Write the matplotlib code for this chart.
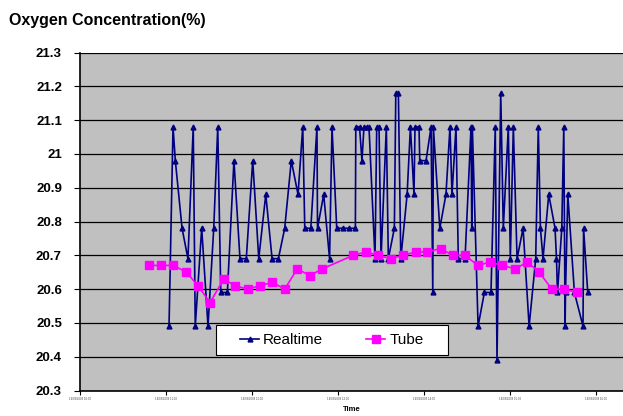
import matplotlib
matplotlib.use('Agg')
import matplotlib.pyplot as plt
from matplotlib.patches import Rectangle
from matplotlib.ticker import FixedLocator

# minutes after the first time tick
realtime_minutes = [
    62.1, 64.9, 66.5, 71.2, 75.3, 79.0, 80.4, 84.9, 89.3, 93.3,
    96.1, 98.2, 102.8, 107.4, 111.6, 116.0, 120.5, 124.7, 129.6, 134.0,
    138.4, 142.8, 147.4, 152.1, 155.4, 156.8, 161.0, 165.3, 165.7, 170.0,
    174.1, 175.8, 179.1, 183.3, 187.9, 192.1, 192.4, 195.0, 196.7, 198.1,
    200.0, 201.6, 205.8, 207.0, 208.6, 210.0, 213.7, 215.1, 219.3, 220.3,
    222.1, 223.8, 228.2, 230.5, 233.0, 233.7, 236.5, 237.0, 241.4, 244.9,
    246.1, 246.5, 251.0, 255.3, 258.1, 259.5, 262.3, 263.9, 268.6, 272.8,
    273.3, 273.7, 277.7, 282.1, 286.7, 289.7, 290.9, 293.5, 295.3, 298.8,
    300.2, 302.3, 304.9, 309.1, 313.3, 317.9, 319.7, 321.2, 323.0, 327.0,
    331.4, 332.4, 333.1, 336.1, 337.5, 338.4, 338.7, 340.3, 344.9, 350.9,
    351.3, 354.2,
]
realtime_values = [
    20.49, 21.08, 20.98, 20.78, 20.69, 21.08, 20.49, 20.78, 20.49, 20.78,
    21.08, 20.59, 20.59, 20.98, 20.69, 20.69, 20.98, 20.69, 20.88, 20.69,
    20.69, 20.78, 20.98, 20.88, 21.08, 20.78, 20.78, 21.08, 20.78, 20.88,
    20.69, 21.08, 20.78, 20.78, 20.78, 20.78, 21.08, 21.08, 20.98, 21.08,
    21.08, 21.08, 20.69, 21.08, 21.08, 20.69, 21.08, 20.69, 20.78, 21.18,
    21.18, 20.69, 20.88, 21.08, 20.88, 21.08, 21.08, 20.98, 20.98, 21.08,
    20.59, 21.08, 20.78, 20.88, 21.08, 20.88, 21.08, 20.69, 20.69, 21.08,
    20.78, 21.08, 20.49, 20.59, 20.59, 21.08, 20.39, 21.18, 20.78, 21.08,
    20.69, 21.08, 20.69, 20.78, 20.49, 20.69, 21.08, 20.78, 20.69, 20.88,
    20.78, 20.69, 20.59, 20.78, 21.08, 20.49, 20.59, 20.88, 20.59, 20.49,
    20.78, 20.59,
]

tube_minutes = [
    48.1, 56.5, 65.1, 74.2, 82.3, 90.7, 100.3, 108.1, 117.0, 125.4,
    134.2, 142.8, 151.6, 160.3, 169.1, 190.7, 199.5, 207.9, 216.8, 225.6,
    234.2, 242.4, 251.5, 259.9, 268.6, 277.5, 286.0, 294.6, 303.7, 311.9,
    320.4, 329.1, 337.9, 346.7,
]
tube_values = [
    20.67, 20.67, 20.67, 20.65, 20.61, 20.56, 20.63, 20.61, 20.60, 20.61,
    20.62, 20.60, 20.66, 20.64, 20.66, 20.70, 20.71, 20.70, 20.69, 20.70,
    20.71, 20.71, 20.72, 20.70, 20.70, 20.67, 20.68, 20.67, 20.66, 20.68,
    20.65, 20.60, 20.60, 20.59,
]

x_ticks = [0, 60, 120, 180, 240, 300, 360]
x_tick_labels = ['14/03/2008 10:00', '14/03/2008 11:00', '14/03/2008 12:00',
                 '14/03/2008 13:00', '14/03/2008 14:00', '14/03/2008 15:00',
                 '14/03/2008 16:00']
y_ticks = [20.3, 20.4, 20.5, 20.6, 20.7, 20.8, 20.9, 21.0, 21.1, 21.2, 21.3]
y_tick_labels = ['20.3', '20.4', '20.5', '20.6', '20.7', '20.8', '20.9', '21',
                 '21.1', '21.2', '21.3']

plt.rcParams['font.family'] = ['Liberation Sans', 'DejaVu Sans']

fig = plt.figure(figsize=(6.23, 4.16), dpi=100)
ax = fig.add_axes([80 / 623, 25.5 / 416, 543 / 623, 338 / 416])
ax.set_facecolor('#C0C0C0')

ax.plot(realtime_minutes, realtime_values, color='#000080', lw=1.2,
        marker='^', markersize=3.5, label='Realtime', zorder=3)
ax.plot(tube_minutes, tube_values, color='#FF00FF', lw=1.2,
        marker='s', markersize=5.5, label='Tube', zorder=4)

ax.set_xlim(0, 378.8)
ax.set_ylim(20.3, 21.3)
ax.yaxis.set_major_locator(FixedLocator(y_ticks))
ax.set_yticklabels(y_tick_labels, fontsize=9.5, fontweight='bold')
ax.set_xticks(x_ticks)
ax.set_xticklabels(x_tick_labels, fontsize=2, color='#444444')
ax.tick_params(axis='y', direction='out', length=4, width=0.8, pad=9)
ax.tick_params(axis='x', direction='out', length=3, width=0.8, pad=2)

ax.grid(axis='y', color='black', lw=0.9)
ax.set_axisbelow(True)
for side in ['top', 'right']:
    ax.spines[side].set_visible(False)
ax.spines['left'].set_linewidth(1.2)
ax.spines['bottom'].set_linewidth(1.2)

ax.set_xlabel('Time', fontsize=5.5, fontweight='bold', labelpad=3.5)

# legend box drawn separately so the padding matches the original
box = Rectangle((136 / 543, 35.5 / 338), 232 / 543, 30.3 / 338, transform=ax.transAxes,
                facecolor='white', edgecolor='black', lw=0.8, zorder=5)
ax.add_patch(box)
leg = ax.legend(loc='center left', bbox_to_anchor=(160 / 543, 50.5 / 338), ncol=2,
                fontsize=11, frameon=False, handlelength=1.25, handletextpad=0.27,
                columnspacing=2.8, borderpad=0, borderaxespad=0)
leg.set_zorder(6)

fig.text(9 / 623, 1 - 20 / 416, 'Oxygen Concentration(%)', fontsize=11.5,
         fontweight='bold', va='center', ha='left')

fig.savefig('out.png', dpi=100)
